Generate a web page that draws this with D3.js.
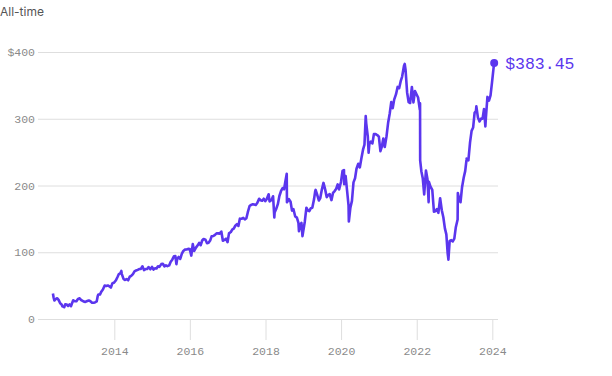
<!DOCTYPE html>
<html>
<head>
<meta charset="utf-8">
<script src="https://cdn.jsdelivr.net/npm/d3@7"></script>
<style>
body { margin: 0; background: #fff; }
</style>
</head>
<body>
<div class="content"></div>
<script>
var width = 612;
var height = 376;

// approximate closing prices
var dates = [
"2012-05-18","2012-05-25","2012-06-01","2012-06-15","2012-06-29","2012-07-13","2012-07-27","2012-08-10","2012-08-17","2012-08-31","2012-09-04","2012-09-14","2012-09-28","2012-10-12","2012-10-26","2012-11-09","2012-11-16","2012-11-30","2012-12-14","2012-12-31",
"2013-01-15","2013-01-31","2013-02-15","2013-02-28","2013-03-15","2013-03-28","2013-04-15","2013-04-30","2013-05-15","2013-05-31","2013-06-14","2013-06-28","2013-07-15","2013-07-25","2013-07-31","2013-08-15","2013-08-30","2013-09-13","2013-09-30","2013-10-15","2013-10-31","2013-11-15","2013-11-29","2013-12-13","2013-12-31",
"2014-01-15","2014-01-31","2014-02-14","2014-02-28","2014-03-10","2014-03-14","2014-03-31","2014-04-11","2014-04-30","2014-05-15","2014-05-30","2014-06-13","2014-06-30","2014-07-15","2014-07-31","2014-08-15","2014-08-29","2014-09-15","2014-09-30","2014-10-15","2014-10-31","2014-11-14","2014-11-28","2014-12-15","2014-12-31",
"2015-01-15","2015-01-30","2015-02-13","2015-02-27","2015-03-13","2015-03-31","2015-04-15","2015-04-30","2015-05-15","2015-05-29","2015-06-15","2015-06-30","2015-07-15","2015-07-31","2015-08-14","2015-08-24","2015-08-31","2015-09-15","2015-09-30","2015-10-15","2015-10-30","2015-11-13","2015-11-30","2015-12-15","2015-12-31",
"2016-01-15","2016-01-29","2016-02-12","2016-02-29","2016-03-15","2016-03-31","2016-04-15","2016-04-29","2016-05-13","2016-05-31","2016-06-15","2016-06-30","2016-07-15","2016-07-29","2016-08-15","2016-08-31","2016-09-15","2016-09-30","2016-10-14","2016-10-31","2016-11-15","2016-11-30","2016-12-15","2016-12-30",
"2017-01-13","2017-01-31","2017-02-15","2017-02-28","2017-03-15","2017-03-31","2017-04-14","2017-04-28","2017-05-15","2017-05-31","2017-06-15","2017-06-30","2017-07-14","2017-07-31","2017-08-15","2017-08-31","2017-09-15","2017-09-29","2017-10-13","2017-10-31","2017-11-15","2017-11-30","2017-12-15","2017-12-29",
"2018-01-12","2018-01-31","2018-02-09","2018-02-28","2018-03-15","2018-03-27","2018-03-30","2018-04-13","2018-04-30","2018-05-15","2018-05-31","2018-06-15","2018-06-29","2018-07-13","2018-07-25","2018-07-27","2018-08-15","2018-08-31","2018-09-14","2018-09-28","2018-10-15","2018-10-31","2018-11-15","2018-11-20","2018-11-30","2018-12-14","2018-12-24","2018-12-31",
"2019-01-15","2019-01-31","2019-02-15","2019-02-28","2019-03-15","2019-03-29","2019-04-15","2019-04-26","2019-04-30","2019-05-15","2019-05-31","2019-06-14","2019-06-28","2019-07-15","2019-07-31","2019-08-15","2019-08-30","2019-09-13","2019-09-30","2019-10-15","2019-10-31","2019-11-15","2019-11-29","2019-12-13","2019-12-31",
"2020-01-15","2020-01-29","2020-01-31","2020-02-14","2020-02-28","2020-03-13","2020-03-16","2020-03-31","2020-04-15","2020-04-30","2020-05-15","2020-05-29","2020-06-15","2020-06-30","2020-07-15","2020-07-31","2020-08-14","2020-08-26","2020-08-31","2020-09-15","2020-09-23","2020-09-30","2020-10-15","2020-10-30","2020-11-13","2020-11-30","2020-12-15","2020-12-31",
"2021-01-15","2021-01-29","2021-02-12","2021-02-26","2021-03-15","2021-03-31","2021-04-15","2021-04-30","2021-05-14","2021-05-28","2021-06-15","2021-06-30","2021-07-15","2021-07-30","2021-08-13","2021-08-31","2021-09-07","2021-09-15","2021-09-30","2021-10-15","2021-10-29","2021-11-15","2021-11-30","2021-12-15","2021-12-31",
"2022-01-14","2022-01-31","2022-02-02","2022-02-03","2022-02-15","2022-02-28","2022-03-14","2022-03-31","2022-04-14","2022-04-26","2022-04-28","2022-05-13","2022-05-31","2022-06-16","2022-06-30","2022-07-15","2022-07-29","2022-08-15","2022-08-31","2022-09-15","2022-09-30","2022-10-14","2022-10-27","2022-10-31","2022-11-03","2022-11-15","2022-11-30","2022-12-15","2022-12-30",
"2023-01-13","2023-01-31","2023-02-02","2023-02-15","2023-02-28","2023-03-15","2023-03-31","2023-04-14","2023-04-27","2023-04-28","2023-05-15","2023-05-31","2023-06-15","2023-06-30","2023-07-14","2023-07-27","2023-07-31","2023-08-15","2023-08-31","2023-09-15","2023-09-29","2023-10-13","2023-10-26","2023-10-31","2023-11-15","2023-11-30","2023-12-15","2023-12-29",
"2024-01-12","2024-01-19"
];
var prices = [
38.2,31.9,27.7,30.0,31.1,28.3,23.7,21.8,19.0,18.1,17.7,22.0,21.7,19.5,21.9,19.2,22.4,28.0,26.8,26.6,
30.1,31.0,28.3,27.3,26.0,25.6,26.9,27.8,26.6,24.4,24.3,24.9,26.3,34.4,36.8,36.6,41.3,44.3,50.2,49.5,50.2,49.0,47.0,53.3,54.7,
57.6,62.6,67.3,68.5,72.0,67.7,60.2,58.5,59.8,58.0,63.3,64.5,67.3,71.3,72.7,73.6,74.8,75.0,79.0,73.2,75.0,74.9,77.7,74.5,78.0,
74.1,75.9,75.7,79.0,78.1,82.2,82.8,78.8,80.4,79.2,80.3,85.8,88.9,94.0,94.2,82.1,89.4,92.9,89.9,97.5,102.0,103.9,104.2,105.0,104.7,
95.0,112.2,102.0,106.9,110.0,114.1,110.5,117.6,119.8,118.8,113.6,114.3,117.5,123.9,124.3,126.1,128.3,128.3,127.9,131.0,117.2,118.4,120.3,115.1,
128.3,130.3,134.2,135.5,139.7,142.1,139.4,150.3,150.2,151.5,149.2,151.0,160.0,169.3,171.0,172.0,171.6,170.9,173.7,180.1,178.0,177.2,180.2,176.5,
179.4,186.9,176.1,178.3,183.9,152.2,159.8,164.5,172.0,184.3,191.8,195.9,194.3,207.3,217.5,174.9,179.5,175.7,162.3,164.5,153.5,151.8,143.9,131.6,140.6,144.1,124.1,131.1,
145.4,166.7,162.5,161.5,166.0,166.7,179.6,191.5,193.4,186.3,177.5,181.3,193.0,203.9,194.2,182.6,185.7,187.2,178.1,188.9,191.7,195.1,201.6,194.1,205.3,
221.8,223.2,201.9,214.2,192.5,170.3,146.0,166.8,177.0,204.7,210.9,225.1,232.5,227.1,240.3,253.7,261.2,303.9,293.2,273.7,249.0,261.9,265.9,263.1,277.0,277.0,275.6,273.2,
251.4,258.3,270.5,257.6,273.8,294.5,307.8,325.1,315.9,328.7,336.8,347.7,345.7,356.3,363.2,379.4,382.2,373.1,339.4,324.8,323.6,347.6,324.5,341.5,336.4,
331.9,313.3,323.0,237.8,221.0,211.0,186.6,222.4,210.2,175.0,205.7,198.6,193.6,160.9,161.3,164.7,159.1,180.9,162.9,152.4,135.7,126.8,97.9,93.2,88.9,117.1,118.1,116.2,120.3,
137.0,149.0,188.8,179.0,174.9,197.8,211.9,221.5,238.6,240.3,237.8,264.7,281.8,287.0,308.9,311.7,318.6,302.0,295.9,300.3,300.2,314.7,288.4,301.3,332.7,327.2,334.9,354.0,
374.5,383.45
];
var yTicks = [0, 100, 200, 300, 400];
var xTicks = [2014, 2016, 2018, 2020, 2022, 2024];
var title = "All-time";
var lastLabel = "$383.45";

var parse = d3.utcParse("%Y-%m-%d");
var data = dates.map(function(d, i){ return {date: parse(d), value: prices[i]}; });

var svg = d3.select(".content").append("svg").attr("width", width).attr("height", height);

var mono = "'Liberation Mono', monospace";
var purple = "#5b36ee";

var x = d3.scaleUtc()
	.domain([new Date(Date.UTC(2014,0,1)), new Date(Date.UTC(2024,0,1))])
	.range([114.3, 492.3]);
var y = d3.scaleLinear().domain([0, 400]).range([319, 52]);

svg.append("text").attr("x", 0).attr("y", 16)
	.attr("font-family", "Inter, sans-serif").attr("font-size", 12)
	.attr("fill", "#555").text(title);

// horizontal grid + y labels
var yAxis = svg.append("g").attr("transform", "translate(38,0)")
	.call(d3.axisRight(y).tickValues(yTicks).tickSize(460)
		.tickFormat(function(d){ return d == 400 ? "$" + d : d; }));
yAxis.select(".domain").remove();
yAxis.selectAll(".tick line").attr("stroke", "#dedede");
yAxis.selectAll(".tick text").attr("x", -3).attr("text-anchor", "end")
	.attr("font-family", mono).attr("font-size", 11.5).attr("fill", "#8a8a8a");

// x axis
var xAxis = svg.append("g").attr("transform", "translate(0,319)")
	.call(d3.axisBottom(x)
		.tickValues(xTicks.map(function(d){ return new Date(Date.UTC(d,0,1)); }))
		.tickSize(21).tickPadding(7).tickFormat(d3.utcFormat("%Y")));
xAxis.select(".domain").remove();
xAxis.selectAll(".tick line").attr("stroke", "#dedede");
xAxis.selectAll(".tick text").attr("font-family", mono).attr("font-size", 11.5).attr("fill", "#8a8a8a");

var line = d3.line().x(function(d){ return x(d.date); }).y(function(d){ return y(d.value); });
svg.append("path").datum(data).attr("d", line)
	.attr("fill", "none").attr("stroke", purple).attr("stroke-width", 2.6).attr("stroke-linejoin", "round");

var last = data[data.length - 1];
svg.append("circle").attr("cx", x(last.date)).attr("cy", y(last.value)).attr("r", 4).attr("fill", purple);
svg.append("text").attr("x", x(last.date) + 11).attr("y", y(last.value) + 6)
	.attr("font-family", mono).attr("font-size", 16.5).attr("fill", purple).text(lastLabel);
</script>
</body>
</html>
